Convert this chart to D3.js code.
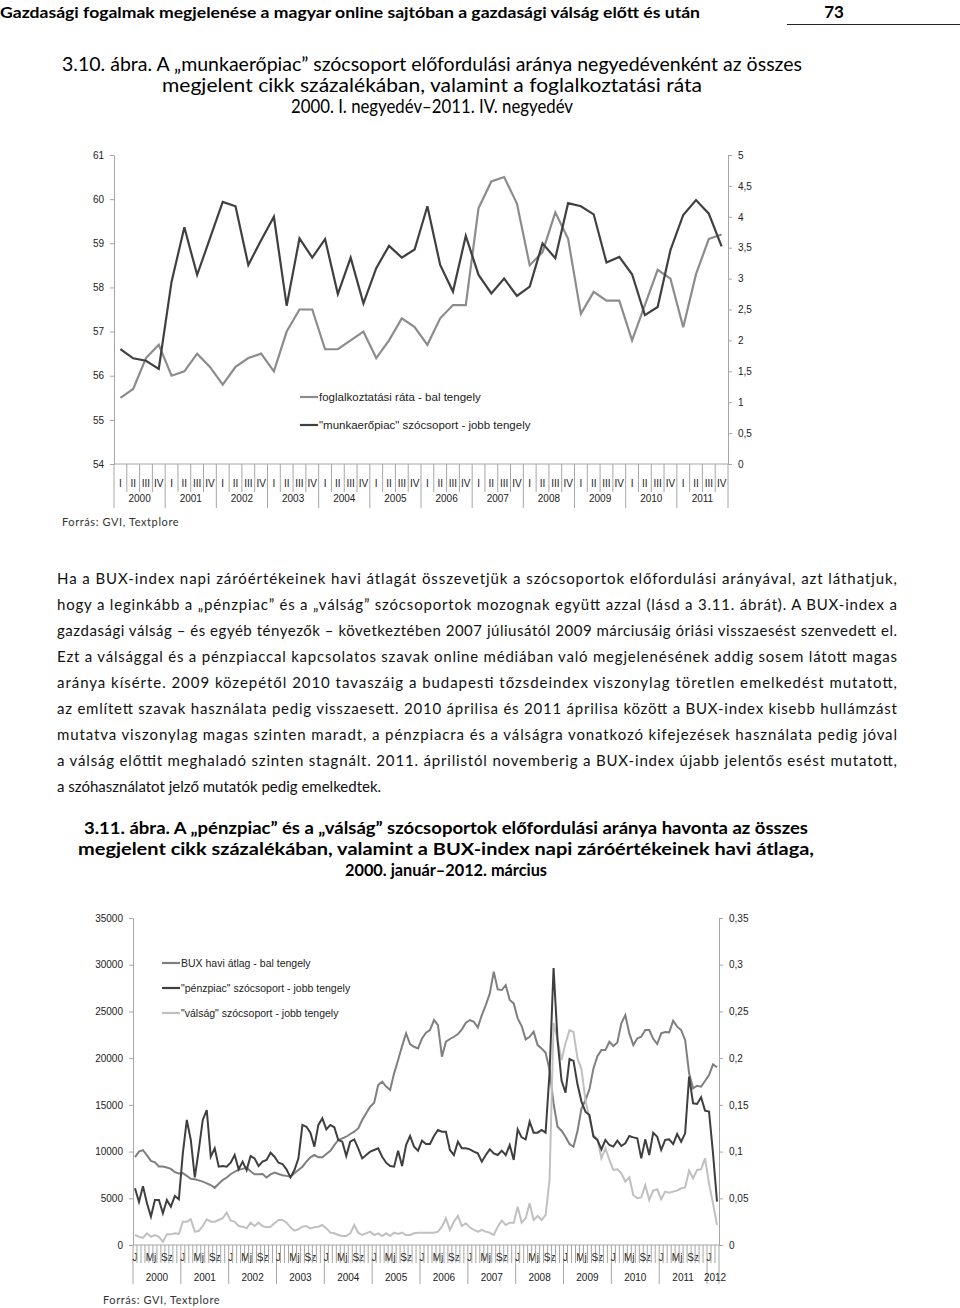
<!DOCTYPE html>
<html>
<head>
<meta charset="utf-8">
<script src="https://cdn.jsdelivr.net/npm/d3@7"></script>
<style>
  body { margin: 0; background: #fff; }
  svg { display: block; }
</style>
</head>
<body>
<div id="page"></div>
<script>
// ---- data: 3.10 abra (negyedeves) ----
var quarterYears = ["2000","2001","2002","2003","2004","2005","2006","2007","2008","2009","2010","2011"];
var quarterNames = ["I","II","III","IV"];
var foglalkoztatas = [
  55.5, 55.7, 56.4, 56.7,  56.0, 56.1, 56.5, 56.2,  55.8, 56.2, 56.4, 56.5,
  56.1, 57.0, 57.5, 57.5,  56.6, 56.6, 56.8, 57.0,  56.4, 56.8, 57.3, 57.1,
  56.7, 57.3, 57.6, 57.6,  59.8, 60.4, 60.5, 59.9,  58.5, 58.8, 59.7, 59.1,
  57.4, 57.9, 57.7, 57.7,  56.8, 57.6, 58.4, 58.2,  57.1, 58.3, 59.1, 59.2
];
var munkaeropiac = [
  1.86, 1.71, 1.67, 1.54,  2.95, 3.83, 3.06, 3.65,  4.24, 4.17, 3.22, 3.62,
  4.00, 2.56, 3.65, 3.34,  3.64, 2.75, 3.34, 2.60,  3.17, 3.53, 3.34, 3.47,
  4.17, 3.22, 2.79, 3.69,  3.06, 2.76, 3.00, 2.72,  2.87, 3.57, 3.33, 4.22,
  4.17, 4.04, 3.26, 3.35,  3.07, 2.41, 2.54, 3.46,  4.03, 4.27, 4.05, 3.52
];
var leftTicks1 = [54, 55, 56, 57, 58, 59, 60, 61];
var rightTicks1 = [0, 0.5, 1, 1.5, 2, 2.5, 3, 3.5, 4, 4.5, 5];

// ---- data: 3.11 abra (havi) ----
var monthYears = ["2000","2001","2002","2003","2004","2005","2006","2007","2008","2009","2010","2011","2012"];
var monthNames = ["J","","","","Mj","","","","Sz","","",""];
var bux = [
  9400, 10000, 10150, 9600, 9000, 8850, 8400, 8400, 8300, 8150, 7800, 7660,
  7700, 7400, 7080, 7030, 6920, 6780, 6600, 6420, 6120, 6550, 6950, 7220,
  7570, 7840, 8060, 8150, 8280, 7900, 7560, 7560, 7600, 7220, 7560, 7760,
  7600, 7460, 7400, 7310, 7670, 8030, 8380, 8920, 9380, 9630, 9380, 9380,
  9740, 10090, 10700, 11240, 11420, 11590, 11880, 12130, 12480, 13380, 14090, 14810,
  15230, 17120, 17480, 16950, 16590, 18370, 19800, 21290, 22650, 21510, 21220, 21040,
  22110, 22720, 23010, 24080, 23540, 20150, 21760, 22050, 22290, 22580, 23080, 23790,
  24080, 23900, 23290, 24610, 25680, 26930, 29250, 27360, 27290, 27820, 26220, 25860,
  24260, 23440, 22010, 22290, 22830, 21400, 21040, 20570, 18720, 15150, 12660, 12230,
  11590, 10800, 10520, 12200, 14600, 15520, 16660, 18900, 20220, 20860, 20860, 21750,
  21300, 21670, 23720, 24610, 22650, 21400, 22110, 22290, 23010, 23010, 22070, 21510,
  22650, 22790, 22760, 24010, 23370, 23010, 21950, 18370, 16770, 17050, 16950, 17550,
  18190, 19330, 19020
];
var penzpiac = [
  0.0607, 0.046, 0.063, 0.0447, 0.0304, 0.0482, 0.0482, 0.0339, 0.0482, 0.0410, 0.0525, 0.0489,
  0.0981, 0.1338, 0.1124, 0.0724, 0.1017, 0.1338, 0.1445, 0.0945, 0.1035, 0.0838, 0.0845, 0.0838,
  0.0881, 0.0963, 0.0810, 0.0892, 0.0802, 0.0952, 0.0927, 0.0845, 0.0892, 0.0910, 0.0988, 0.0945,
  0.0881, 0.0867, 0.0810, 0.0724, 0.0802, 0.0927, 0.1285, 0.1266, 0.1202, 0.1053, 0.1285, 0.1356,
  0.1237, 0.1285, 0.1260, 0.1124, 0.1106, 0.0952, 0.1106, 0.1131, 0.1035, 0.0927, 0.0963, 0.0999,
  0.1017, 0.1035, 0.0945, 0.0881, 0.0845, 0.0838, 0.1010, 0.0845, 0.1070, 0.1167, 0.1053, 0.1010,
  0.1117, 0.1081, 0.1081, 0.1167, 0.1231, 0.1213, 0.1213, 0.1017, 0.0963, 0.1106, 0.1035, 0.1035,
  0.1024, 0.0999, 0.0981, 0.0892, 0.0963, 0.1024, 0.0981, 0.0963, 0.1010, 0.0963, 0.1070, 0.0910,
  0.1237, 0.1152, 0.1131, 0.1320, 0.1202, 0.1202, 0.1231, 0.1202, 0.185, 0.2965, 0.219, 0.176,
  0.163, 0.199, 0.197, 0.172, 0.1535, 0.1427, 0.1392, 0.1160, 0.1124, 0.1024, 0.1124, 0.1070,
  0.1053, 0.1117, 0.1060, 0.1088, 0.1167, 0.1152, 0.1142, 0.0927, 0.1131, 0.0963, 0.1202, 0.1159,
  0.1017, 0.1124, 0.1131, 0.1081, 0.1188, 0.1106, 0.1195, 0.1802, 0.1517, 0.1510, 0.1581, 0.1438,
  0.1428, 0.0981, 0.0464
];
var valsag = [
  0.0107, 0.0088, 0.0077, 0.0125, 0.0088, 0.0107, 0.0088, 0.0036, 0.0114, 0.0114, 0.0125, 0.0118,
  0.0250, 0.0250, 0.0275, 0.0143, 0.0150, 0.0203, 0.0275, 0.0250, 0.0250, 0.0268, 0.0286, 0.0346,
  0.0261, 0.0250, 0.0203, 0.0196, 0.0178, 0.0239, 0.0203, 0.0239, 0.0203, 0.0189, 0.0196, 0.0232,
  0.0268, 0.0268, 0.0239, 0.0189, 0.0153, 0.0168, 0.0196, 0.0203, 0.0178, 0.0189, 0.0196, 0.0214,
  0.0178, 0.0132, 0.0125, 0.0107, 0.0096, 0.0096, 0.0125, 0.0214, 0.0132, 0.0107, 0.0125, 0.0143,
  0.0107, 0.0125, 0.0096, 0.0125, 0.0096, 0.0132, 0.0118, 0.0132, 0.0107, 0.0107, 0.0125, 0.0132,
  0.0132, 0.0132, 0.0132, 0.0132, 0.0143, 0.0196, 0.0286, 0.0161, 0.0250, 0.0311, 0.0203, 0.0232,
  0.0189, 0.0161, 0.0143, 0.0161, 0.0143, 0.0132, 0.0107, 0.0196, 0.0261, 0.0214, 0.0239, 0.0239,
  0.0410, 0.0239, 0.0286, 0.0446, 0.0268, 0.0311, 0.0268, 0.0321, 0.0700, 0.2376, 0.220, 0.198,
  0.216, 0.230, 0.228, 0.200, 0.188, 0.155, 0.1355, 0.1178, 0.1131, 0.0928, 0.1035, 0.0910,
  0.0803, 0.0810, 0.0767, 0.0678, 0.0724, 0.0535, 0.0500, 0.0510, 0.0642, 0.0482, 0.0582, 0.0596,
  0.0489, 0.0571, 0.0560, 0.0571, 0.0582, 0.0607, 0.0617, 0.0796, 0.0714, 0.0803, 0.0810, 0.0928,
  0.0660, 0.0446, 0.0214
];
var leftTicks2 = [0, 5000, 10000, 15000, 20000, 25000, 30000, 35000];
var rightTicks2 = [0, 0.05, 0.1, 0.15, 0.2, 0.25, 0.3, 0.35];

// ---- page text ----
var headerText = "Gazdasági fogalmak megjelenése a magyar online sajtóban a gazdasági válság előtt és után";
var title1 = [
  "3.10. ábra. A „munkaerőpiac” szócsoport előfordulási aránya negyedévenként az összes",
  "megjelent cikk százalékában, valamint a foglalkoztatási ráta",
  "2000. I. negyedév–2011. IV. negyedév"
];
var paragraph = [
  "Ha a BUX-index napi záróértékeinek havi átlagát összevetjük a szócsoportok előfordulási arányával, azt láthatjuk,",
  "hogy a leginkább a „pénzpiac” és a „válság” szócsoportok mozognak együtt azzal (lásd a 3.11. ábrát). A BUX-index a",
  "gazdasági válság – és egyéb tényezők – következtében 2007 júliusától 2009 márciusáig óriási visszaesést szenvedett el.",
  "Ezt a válsággal és a pénzpiaccal kapcsolatos szavak online médiában való megjelenésének addig sosem látott magas",
  "aránya kísérte. 2009 közepétől 2010 tavaszáig a budapesti tőzsdeindex viszonylag töretlen emelkedést mutatott,",
  "az említett szavak használata pedig visszaesett. 2010 áprilisa és 2011 áprilisa között a BUX-index kisebb hullámzást",
  "mutatva viszonylag magas szinten maradt, a pénzpiacra és a válságra vonatkozó kifejezések használata pedig jóval",
  "a válság előttit meghaladó szinten stagnált. 2011. áprilistól novemberig a BUX-index újabb jelentős esést mutatott,",
  "a szóhasználatot jelző mutatók pedig emelkedtek."
];
var title2 = [
  "3.11. ábra. A „pénzpiac” és a „válság” szócsoportok előfordulási aránya havonta az összes",
  "megjelent cikk százalékában, valamint a BUX-index napi záróértékeinek havi átlaga,",
  "2000. január–2012. március"
];
var legend1 = ["foglalkoztatási ráta - bal tengely", "\"munkaerőpiac\" szócsoport  - jobb tengely"];
var legend2 = ["BUX havi átlag - bal tengely", "\"pénzpiac\" szócsoport  - jobb tengely", "\"válság\" szócsoport  - jobb tengely"];
var source = "Forrás: GVI, Textplore";

var chartFont = "'Liberation Sans', Arial, sans-serif";
var bookFont = "Lato, 'Open Sans', sans-serif";
var axisColor = "#a6a6a6";

var svg = d3.select("#page").append("svg").attr("width", 960).attr("height", 1308);
svg.append("rect").attr("width", 960).attr("height", 1308).attr("fill", "#fff");

function comma(v) { return String(+v.toFixed(2)).replace(".", ","); }

// ---- header and titles ----
svg.append("text").attr("x", 0).attr("y", 18).attr("font-family", bookFont).attr("font-weight", 700)
   .attr("font-size", 16).attr("textLength", 700).attr("lengthAdjust", "spacingAndGlyphs").text(headerText);
svg.append("text").attr("x", 834).attr("y", 18).attr("text-anchor", "middle").attr("font-family", bookFont)
   .attr("font-weight", 700).attr("font-size", 17).text("73");
svg.append("line").attr("x1", 787).attr("x2", 960).attr("y1", 24.5).attr("y2", 24.5).attr("stroke", "#222").attr("stroke-width", 1);

var t1w = [740, 540, 282];
title1.forEach(function(s, i) {
  svg.append("text").attr("x", 432).attr("y", 71 + i * 21).attr("text-anchor", "middle")
     .attr("font-family", bookFont).attr("font-size", 19)
     .attr("textLength", t1w[i]).attr("lengthAdjust", "spacingAndGlyphs").text(s);
});

paragraph.forEach(function(s, i) {
  var t = svg.append("text").attr("x", 57).attr("y", 584 + i * 26)
     .attr("font-family", bookFont).attr("font-size", 15).attr("fill", "#111").text(s);
  if (i < paragraph.length - 1) t.attr("textLength", 840).attr("lengthAdjust", "spacing");
});

var t2w = [724, 736, 202];
title2.forEach(function(s, i) {
  svg.append("text").attr("x", 446).attr("y", 834 + i * 21).attr("text-anchor", "middle")
     .attr("font-family", bookFont).attr("font-weight", 700).attr("font-size", 17)
     .attr("textLength", t2w[i]).attr("lengthAdjust", "spacingAndGlyphs").text(s);
});

// ---- helpers ----
function styleAxis(g) {
  g.select(".domain").attr("stroke", axisColor);
  g.selectAll(".tick line").attr("stroke", axisColor);
  g.selectAll(".tick text").attr("fill", "#222").attr("font-family", chartFont).attr("font-size", 10);
}

function drawLegend(items, colors, x, y, gap, size) {
  items.forEach(function(s, i) {
    svg.append("line").attr("x1", x).attr("x2", x + 18).attr("y1", y + i * gap).attr("y2", y + i * gap)
       .attr("stroke", colors[i]).attr("stroke-width", 2.2);
    svg.append("text").attr("x", x + 19).attr("y", y + i * gap + 4).attr("font-family", chartFont)
       .attr("font-size", size).attr("fill", "#222").text(s);
  });
}

// ---- chart 1 ----
(function() {
  var left = 114, right = 728, top = 155, bottom = 464;
  var keys = [];
  quarterYears.forEach(function(y) { quarterNames.forEach(function(q) { keys.push({ year: y, q: q, key: y + q }); }); });

  var x = d3.scaleBand().domain(keys.map(function(d) { return d.key; })).range([left, right]);
  var yL = d3.scaleLinear().domain([54, 61]).range([bottom, top]);
  var yR = d3.scaleLinear().domain([0, 5]).range([bottom, top]);
  var cx = function(i) { return x(keys[i].key) + x.bandwidth() / 2; };

  svg.append("g").attr("transform", "translate(" + left + ",0)")
     .call(d3.axisLeft(yL).tickValues(leftTicks1).tickSize(4).tickSizeOuter(0).tickPadding(6).tickFormat(d3.format("d"))).call(styleAxis);
  svg.append("g").attr("transform", "translate(" + right + ",0)")
     .call(d3.axisRight(yR).tickValues(rightTicks1).tickSize(4).tickSizeOuter(0).tickPadding(6).tickFormat(comma)).call(styleAxis);

  svg.append("line").attr("x1", left).attr("x2", right).attr("y1", bottom).attr("y2", bottom).attr("stroke", axisColor);
  keys.forEach(function(d, i) {
    var x0 = x(d.key);
    svg.append("line").attr("x1", x0).attr("x2", x0).attr("y1", bottom).attr("y2", d.q == "I" ? 508 : 492).attr("stroke", axisColor);
    svg.append("text").attr("x", x0 + x.bandwidth() / 2).attr("y", 487).attr("text-anchor", "middle")
       .attr("font-family", chartFont).attr("font-size", 10).attr("fill", "#222").text(d.q);
  });
  svg.append("line").attr("x1", right).attr("x2", right).attr("y1", bottom).attr("y2", 508).attr("stroke", axisColor);
  quarterYears.forEach(function(y) {
    svg.append("text").attr("x", x(y + "I") + x.bandwidth() * 2).attr("y", 502).attr("text-anchor", "middle")
       .attr("font-family", chartFont).attr("font-size", 10).attr("fill", "#222").text(y);
  });

  var lineL = d3.line().x(function(d, i) { return cx(i); }).y(function(d) { return yL(d); });
  var lineR = d3.line().x(function(d, i) { return cx(i); }).y(function(d) { return yR(d); });
  svg.append("path").attr("d", lineL(foglalkoztatas)).attr("fill", "none").attr("stroke", "#8c8c8c").attr("stroke-width", 2.2);
  svg.append("path").attr("d", lineR(munkaeropiac)).attr("fill", "none").attr("stroke", "#404040").attr("stroke-width", 2.2);

  drawLegend(legend1, ["#8c8c8c", "#404040"], 300, 397, 28, 11.5);

  svg.append("text").attr("x", 62).attr("y", 526).attr("font-family", bookFont).attr("font-size", 11)
     .attr("letter-spacing", 0.6).attr("fill", "#333").text(source);
})();

// ---- chart 2 ----
(function() {
  var left = 133, right = 719, top = 918, bottom = 1245;
  var keys = [];
  monthYears.forEach(function(y) {
    monthNames.forEach(function(m, j) { if (keys.length < bux.length) keys.push({ year: y, m: j, label: m, key: y + "-" + j }); });
  });

  var x = d3.scaleBand().domain(keys.map(function(d) { return d.key; })).range([left, right]);
  var yL = d3.scaleLinear().domain([0, 35000]).range([bottom, top]);
  var yR = d3.scaleLinear().domain([0, 0.35]).range([bottom, top]);
  var cx = function(i) { return x(keys[i].key) + x.bandwidth() / 2; };

  svg.append("g").attr("transform", "translate(" + left + ",0)")
     .call(d3.axisLeft(yL).tickValues(leftTicks2).tickSize(4).tickSizeOuter(0).tickPadding(6).tickFormat(d3.format("d"))).call(styleAxis);
  svg.append("g").attr("transform", "translate(" + right + ",0)")
     .call(d3.axisRight(yR).tickValues(rightTicks2).tickSize(4).tickSizeOuter(0).tickPadding(6).tickFormat(comma)).call(styleAxis);

  svg.append("line").attr("x1", left).attr("x2", right).attr("y1", bottom).attr("y2", bottom).attr("stroke", axisColor);
  keys.forEach(function(d) {
    var x0 = x(d.key);
    svg.append("line").attr("x1", x0).attr("x2", x0).attr("y1", bottom).attr("y2", d.m == 0 ? 1284 : 1263).attr("stroke", axisColor);
    if (d.label) {
      svg.append("text").attr("x", x0 + x.bandwidth() / 2).attr("y", 1261).attr("text-anchor", "middle")
         .attr("font-family", chartFont).attr("font-size", 10).attr("fill", "#222").text(d.label);
    }
  });
  svg.append("line").attr("x1", right).attr("x2", right).attr("y1", bottom).attr("y2", 1284).attr("stroke", axisColor);
  monthYears.forEach(function(y) {
    var inYear = keys.filter(function(d) { return d.year == y; });
    var x0 = x(inYear[0].key), x1 = x(inYear[inYear.length - 1].key) + x.bandwidth();
    var mid = inYear.length < 12 ? x0 + 8 : (x0 + x1) / 2;
    svg.append("text").attr("x", mid).attr("y", 1281).attr("text-anchor", "middle")
       .attr("font-family", chartFont).attr("font-size", 10).attr("fill", "#222").text(y);
  });

  var lineL = d3.line().x(function(d, i) { return cx(i); }).y(function(d) { return yL(d); });
  var lineR = d3.line().x(function(d, i) { return cx(i); }).y(function(d) { return yR(d); });
  svg.append("path").attr("d", lineL(bux)).attr("fill", "none").attr("stroke", "#7f7f7f").attr("stroke-width", 2);
  svg.append("path").attr("d", lineR(valsag)).attr("fill", "none").attr("stroke", "#c0c0c0").attr("stroke-width", 2);
  svg.append("path").attr("d", lineR(penzpiac)).attr("fill", "none").attr("stroke", "#3f3f3f").attr("stroke-width", 2);

  drawLegend(legend2, ["#7f7f7f", "#3f3f3f", "#c0c0c0"], 162, 963, 25, 10.5);

  svg.append("text").attr("x", 103).attr("y", 1304).attr("font-family", bookFont).attr("font-size", 11)
     .attr("letter-spacing", 0.6).attr("fill", "#333").text(source);
})();
</script>
</body>
</html>
